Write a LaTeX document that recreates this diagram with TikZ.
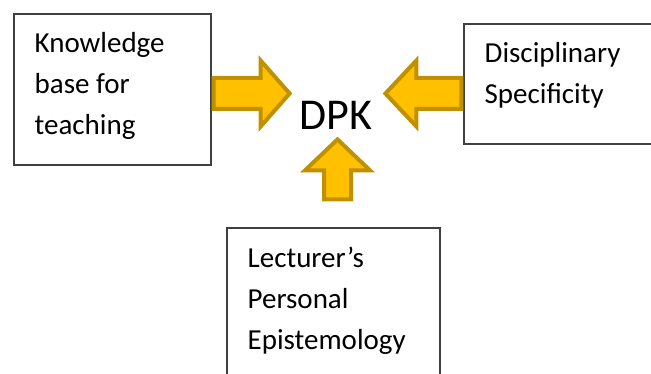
\documentclass[tikz,border=0pt]{standalone}
\usepackage{fontspec}
\setmainfont{Carlito}
\usepackage{xcolor}
\definecolor{ArrowFill}{HTML}{FFC000}
\definecolor{ArrowLine}{HTML}{BF9000}
\definecolor{BoxLine}{HTML}{404040}
\usepackage{tikz}
\usetikzlibrary{positioning}

\begin{document}
\begin{tikzpicture}[x=0.75pt,y=-0.75pt,
  box/.style={draw=BoxLine, line width=0.9pt, inner sep=0pt},
  boxtext/.style={anchor=base west, inner sep=0pt, align=left, font=\fontsize{21.75}{30.75}\selectfont},
  blockarrow/.style={fill=ArrowFill, draw=ArrowLine, line width=3pt, miter limit=10}]
  \useasboundingbox (0,0) rectangle (651,374);
  % the three boxes
  \node[box, minimum width=147.75pt, minimum height=113.25pt] (kb) at (112.5,89.5) {};
  \node[box, minimum width=147pt, minimum height=90pt] (ds) at (562,84) {};
  \node[box, minimum width=159.75pt, minimum height=129pt] (lp) at (333.5,314) {};
  % text sits on the baseline of its last line
  \node[boxtext] (kbtext) at ([shift={(21,121)}]kb.north west) {Knowledge\\base for\\teaching};
  \node[boxtext] (dstext) at ([shift={(21,80)}]ds.north west) {Disciplinary\\Specificity};
  \node[boxtext] (lptext) at ([shift={(21,122)}]lp.north west) {Lecturer’s\\Personal\\Epistemology};
  \node[anchor=base, inner sep=0pt, font=\fontsize{33}{36}\selectfont] (dpk) at (336,130) {DPK};
  % block arrows into DPK
  \draw[blockarrow, shift={(kb.east)}] (2,-11.5) -- (49,-11.5) -- (49,-29) -- (78,4) -- (49,37) -- (49,19.5) -- (2,19.5) -- cycle;
  \draw[blockarrow, shift={(ds.west)}] (-2,-6) -- (-47,-6) -- (-47,-23.5) -- (-78,9.5) -- (-47,42.5) -- (-47,25) -- (-2,25) -- cycle;
  \draw[blockarrow, shift={(lp.north)}] (-9.5,-28) -- (-9.5,-57) -- (-28.5,-57) -- (4,-88) -- (36.5,-57) -- (17.5,-57) -- (17.5,-28) -- cycle;
\end{tikzpicture}
\end{document}
